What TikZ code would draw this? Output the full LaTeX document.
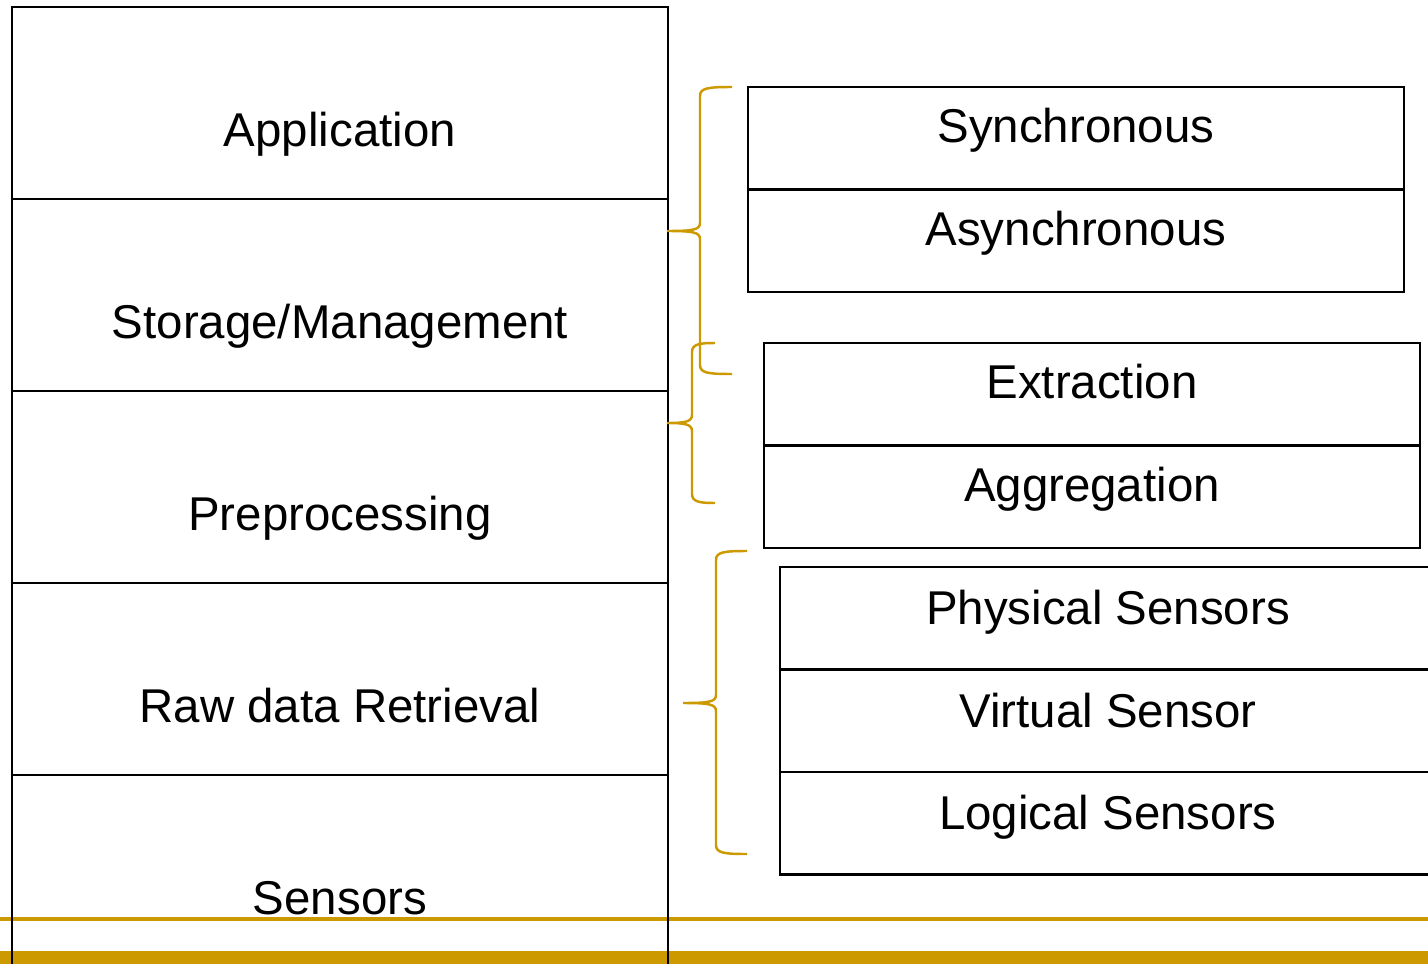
\documentclass[tikz,border=0pt]{standalone}
\usepackage{fontspec}
\setmainfont{Liberation Sans}
\usepackage{tikz}
\usetikzlibrary{positioning}
\definecolor{gold}{RGB}{204,153,0}
\tikzstyle{layer} = [draw, rectangle, line width=1.2pt, outer sep=0pt, minimum width=13.12cm, minimum height=3.84cm]
\tikzstyle{item} = [draw, rectangle, line width=1.2pt, outer sep=0pt, minimum width=13.12cm, minimum height=2.05cm]
\tikzstyle{txt} = [anchor=base, inner sep=0pt, font=\fontsize{27pt}{32pt}\selectfont]
\tikzstyle{curly} = [draw=gold, line width=1.4pt]
% end x, top y, stem x, tip x, bottom y, middle y
\newcommand{\goldbrace}[6]{%
	\draw [curly] (#1,#2) .. controls (#3+8,#2) and (#3,#2+1) .. (#3,#2+9) -- (#3,#6-8)
		.. controls (#3,#6-1) and (#3-8,#6) .. (#4,#6)
		.. controls (#3-8,#6) and (#3,#6+1) .. (#3,#6+8) -- (#3,#5-9)
		.. controls (#3,#5-1) and (#3+8,#5) .. (#1,#5);}

\begin{document}
\begin{tikzpicture}[x=0.02cm, y=-0.02cm]
	\useasboundingbox (0,0) rectangle (1428,964);

	% footer
	\draw [gold, line width=2.3pt] (0,918.7) -- (1428,918.7);
	\fill [gold] (0,951) rectangle (1428,964);

	% layer stack
	\node [layer, anchor=north west] (app) at (12,7) {};
	\node [layer, below=0pt of app] (storage) {};
	\node [layer, below=0pt of storage] (preproc) {};
	\node [layer, below=0pt of preproc] (raw) {};
	\node [layer, below=0pt of raw] (sensors) {};

	\node [txt] (appText) at ([yshift=-2.8cm]app.north) {Application};
	\node [txt] (storageText) at ([yshift=-2.8cm]storage.north) {Storage/Management};
	\node [txt] (preprocText) at ([yshift=-2.8cm]preproc.north) {Preprocessing};
	\node [txt] (rawText) at ([yshift=-2.8cm]raw.north) {Raw data Retrieval};
	\node [txt] (sensorsText) at ([yshift=-2.8cm]sensors.north) {Sensors};

	% storage modes
	\node [item, anchor=north west] (sync) at (748,87) {};
	\node [item, below=0pt of sync] (async) {};
	\node [txt] (syncText) at ([yshift=-1.12cm]sync.north) {Synchronous};
	\node [txt] (asyncText) at ([yshift=-1.12cm]async.north) {Asynchronous};

	% preprocessing steps
	\node [item, anchor=north west] (extract) at (764,343) {};
	\node [item, below=0pt of extract] (aggr) {};
	\node [txt] (extractText) at ([yshift=-1.12cm]extract.north) {Extraction};
	\node [txt] (aggrText) at ([yshift=-1.12cm]aggr.north) {Aggregation};

	% sensor kinds
	\node [item, anchor=north west] (physical) at (780,567) {};
	\node [item, below=0pt of physical] (virtual) {};
	\node [item, below=0pt of virtual] (logical) {};
	\node [txt] (physicalText) at ([yshift=-1.16cm]physical.north) {Physical Sensors};
	\node [txt] (virtualText) at ([yshift=-1.16cm]virtual.north) {Virtual Sensor};
	\node [txt] (logicalText) at ([yshift=-1.16cm]logical.north) {Logical Sensors};

	\goldbrace{732}{87}{700}{667}{374}{231}
	\goldbrace{715}{343}{692}{667}{503}{423}
	\goldbrace{747}{551}{716}{683}{854}{703}
\end{tikzpicture}
\end{document}
